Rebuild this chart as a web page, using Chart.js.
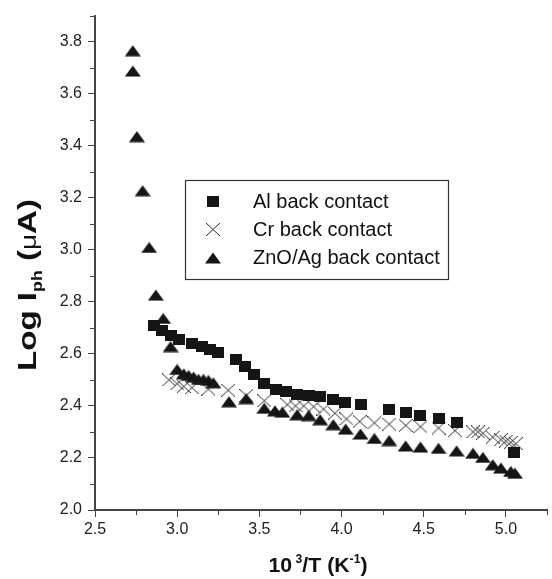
<!DOCTYPE html>
<html lang="en">
<head>
  <meta charset="UTF-8">
  <title>Log Iph vs 1000/T</title>
  <script src="https://cdn.jsdelivr.net/npm/chart.js"></script>
  <style>
    html, body { margin: 0; padding: 0; background: #fff; }
    #wrap { width: 552px; height: 579px; }
  </style>
</head>
<body>
  <div id="wrap"><canvas id="chart" width="552" height="579"></canvas></div>
  <script>
    // values
    const alX = [2.86, 2.91, 2.96, 3.01, 3.09, 3.15, 3.20, 3.25, 3.36, 3.41, 3.47, 3.53, 3.60, 3.66, 3.73, 3.80, 3.87, 3.95, 4.02, 4.12, 4.29, 4.39, 4.48, 4.59, 4.70, 5.05];
    const alY = [2.71, 2.69, 2.67, 2.655, 2.64, 2.63, 2.615, 2.605, 2.58, 2.55, 2.52, 2.485, 2.465, 2.455, 2.445, 2.44, 2.435, 2.425, 2.415, 2.405, 2.385, 2.375, 2.365, 2.35, 2.335, 2.22];

    const crX = [2.95, 3.00, 3.04, 3.09, 3.19, 3.31, 3.42, 3.53, 3.67, 3.72, 3.77, 3.83, 3.89, 3.96, 4.03, 4.11, 4.20, 4.29, 4.39, 4.48, 4.59, 4.69, 4.80, 4.83, 4.86, 4.92, 4.97, 5.00, 5.03, 5.06];
    const crY = [2.50, 2.485, 2.475, 2.47, 2.465, 2.46, 2.44, 2.42, 2.405, 2.40, 2.40, 2.397, 2.388, 2.372, 2.35, 2.34, 2.335, 2.33, 2.325, 2.32, 2.315, 2.305, 2.30, 2.30, 2.295, 2.28, 2.27, 2.265, 2.26, 2.255];

    const znX = [2.73, 2.73, 2.755, 2.79, 2.83, 2.87, 2.915, 2.96, 3.00, 3.04, 3.07, 3.10, 3.13, 3.16, 3.19, 3.22, 3.315, 3.42, 3.53, 3.595, 3.64, 3.73, 3.80, 3.87, 3.95, 4.025, 4.115, 4.20, 4.29, 4.39, 4.48, 4.59, 4.70, 4.80, 4.86, 4.92, 4.97, 5.03, 5.055];
    const znY = [3.765, 3.687, 3.435, 3.227, 3.009, 2.826, 2.736, 2.628, 2.540, 2.523, 2.517, 2.511, 2.502, 2.502, 2.498, 2.489, 2.416, 2.428, 2.391, 2.381, 2.376, 2.366, 2.363, 2.347, 2.328, 2.311, 2.292, 2.275, 2.267, 2.246, 2.242, 2.237, 2.227, 2.218, 2.202, 2.174, 2.161, 2.148, 2.141];

    const seriesNames = ['Al back contact', 'Cr back contact', 'ZnO/Ag back contact'];
    const yTicks = [2.0, 2.2, 2.4, 2.6, 2.8, 3.0, 3.2, 3.4, 3.6, 3.8];
    const xTicks = [2.5, 3.0, 3.5, 4.0, 4.5, 5.0];

    const pts = (xs, ys) => xs.map((x, i) => ({ x: x, y: ys[i] }));

    const FONT = '"Liberation Sans", Arial, Helvetica, sans-serif';
    const INK = '#151515';

    // small canvases used as point styles (centred on their box like the original)
    function marker(w, h, draw) {
      const c = document.createElement('canvas');
      c.width = w; c.height = h;
      draw(c.getContext('2d'), w, h);
      return c;
    }
    const squareImg = marker(12, 11, (g, w, h) => { g.fillStyle = INK; g.fillRect(0, 0, w, h); });
    const triImg = marker(16, 12, (g, w, h) => {
      g.fillStyle = INK;
      g.beginPath(); g.moveTo(w / 2, 0.5); g.lineTo(w, h - 0.5); g.lineTo(0, h - 0.5); g.closePath(); g.fill();
    });
    const crossImg = marker(14, 13, (g, w, h) => {
      g.strokeStyle = '#2a2a2a'; g.lineWidth = 1;
      g.beginPath(); g.moveTo(0, 0); g.lineTo(w, h); g.moveTo(w, 0); g.lineTo(0, h); g.stroke();
    });

    // draw a run of text parts, squeezed/stretched to a given length
    function drawParts(ctx, parts, length) {
      let w = 0;
      parts.forEach(p => { ctx.font = p[1]; w += ctx.measureText(p[0]).width; });
      ctx.scale(length / w, 1);
      let cx = -w / 2;
      parts.forEach(p => { ctx.font = p[1]; ctx.fillText(p[0], cx, p[2]); cx += ctx.measureText(p[0]).width; });
    }

    // minor ticks, axis titles and the boxed legend
    const extras = {
      id: 'extras',
      afterDraw(chart) {
        const ctx = chart.ctx;
        const xs = chart.scales.x, ys = chart.scales.y;
        const area = chart.chartArea;
        ctx.save();
        ctx.strokeStyle = '#444';
        ctx.lineWidth = 1;
        ctx.beginPath();
        for (let v = 2.1; v < 3.95; v += 0.2) {
          const py = Math.round(ys.getPixelForValue(v)) + 0.5;
          ctx.moveTo(area.left - 5, py); ctx.lineTo(area.left, py);
        }
        for (let v = 2.75; v < 5.3; v += 0.5) {
          const px = Math.round(xs.getPixelForValue(v)) + 0.5;
          ctx.moveTo(px, area.bottom); ctx.lineTo(px, area.bottom + 5);
        }
        ctx.stroke();

        ctx.fillStyle = '#111';
        ctx.textBaseline = 'alphabetic';

        // x title: 10^3/T (K^-1)
        const xb = 'bold 21px ' + FONT, xs2 = 'bold 12px ' + FONT;
        ctx.save();
        ctx.translate((area.left + area.right) / 2 - 3, 572);
        drawParts(ctx, [['10', xb, 0], [' 3', xs2, -9], ['/T (K', xb, 0], ['-1', xs2, -9], [')', xb, 0]], 99);
        ctx.restore();

        // y title: Log I_ph (uA)
        const yb = 'bold 26px ' + FONT;
        ctx.save();
        ctx.translate(36, 285);
        ctx.rotate(-Math.PI / 2);
        drawParts(ctx, [['Log I', yb, 0], ['ph', 'bold 14px ' + FONT, 6], [' (', yb, 0], ['\u03bc', '22px ' + FONT, 0], ['A)', yb, 0]], 172);
        ctx.restore();

        // legend box
        const box = { l: 185.5, t: 180.5, r: 448.5, b: 279.5 };
        ctx.strokeStyle = '#333';
        ctx.lineWidth = 1.2;
        ctx.strokeRect(box.l, box.t, box.r - box.l, box.b - box.t);
        const rows = [201, 229.5, 257.5];
        ctx.font = '20px ' + FONT;
        ctx.textBaseline = 'middle';
        chart.data.datasets.forEach((ds, i) => {
          const img = ds.pointStyle;
          ctx.drawImage(img, Math.round(213 - img.width / 2), Math.round(rows[i] - img.height / 2));
          ctx.fillStyle = '#111';
          ctx.fillText(ds.label, 253, rows[i] + 1);
        });
        ctx.restore();
      }
    };

    new Chart(document.getElementById('chart'), {
      type: 'scatter',
      data: {
        datasets: [
          { label: seriesNames[0], data: pts(alX, alY), pointStyle: squareImg },
          { label: seriesNames[1], data: pts(crX, crY), pointStyle: crossImg },
          { label: seriesNames[2], data: pts(znX, znY), pointStyle: triImg }
        ]
      },
      options: {
        responsive: false,
        animation: false,
        layout: { padding: { top: 6, right: 5, left: 0, bottom: 0 } },
        plugins: { legend: { display: false }, tooltip: { enabled: false } },
        scales: {
          x: {
            type: 'linear', min: 2.5, max: 5.25,
            afterFit: s => { s.height = 69; },
            afterBuildTicks: s => { s.ticks = xTicks.map(v => ({ value: v })); },
            border: { display: true, color: '#444', width: 2 },
            grid: { drawOnChartArea: false, drawTicks: true, tickLength: 7, color: '#444' },
            ticks: { font: { family: FONT, size: 16 }, color: '#222', padding: 3, callback: v => v.toFixed(1) }
          },
          y: {
            type: 'linear', min: 2.0, max: 3.9,
            afterFit: s => { s.width = 95; },
            afterBuildTicks: s => { s.ticks = yTicks.map(v => ({ value: v })); },
            border: { display: true, color: '#444', width: 2 },
            grid: { drawOnChartArea: false, drawTicks: true, tickLength: 7, color: '#444' },
            ticks: { font: { family: FONT, size: 16 }, color: '#222', padding: 6, callback: v => v.toFixed(1) }
          }
        }
      },
      plugins: [extras]
    });
  </script>
</body>
</html>
